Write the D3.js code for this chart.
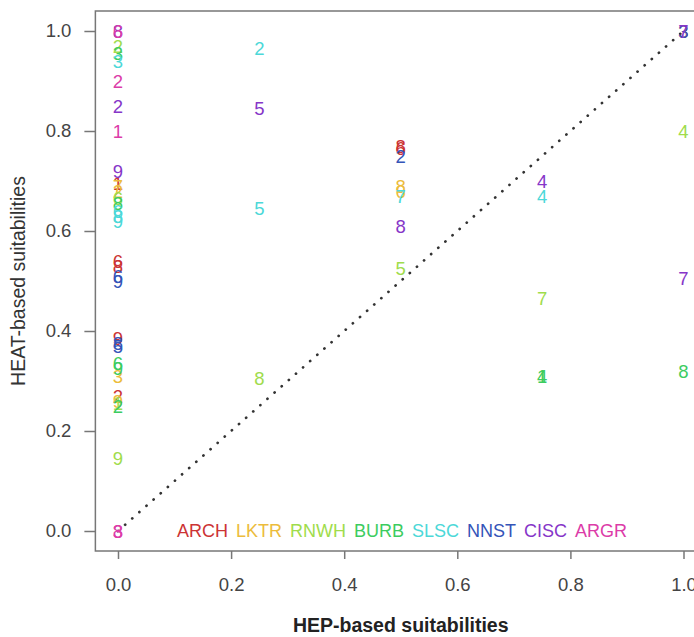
<!DOCTYPE html>
<html>
<head>
<meta charset="utf-8">
<script src="https://cdn.jsdelivr.net/npm/d3@7"></script>
<style>
  body { margin: 0; background: #fff; }
  svg { display: block; font-family: "Liberation Sans", Arial, sans-serif; }
</style>
</head>
<body>
<div id="container"></div>
<script>
/* DATA */
const species = ["ARCH", "LKTR", "RNWH", "BURB", "SLSC", "NNST", "CISC", "ARGR"];
const speciesColors = ["#cc3434", "#ecbc3c", "#a0dc4c", "#3ccc60", "#4cd8d8", "#3454b8", "#8636c8", "#dc3ca8"];
const xTicks = [0, 0.2, 0.4, 0.6, 0.8, 1.0];
const yTicks = [0, 0.2, 0.4, 0.6, 0.8, 1.0];

// each point: [site, HEP, HEAT]
const arch = [[1, 0, 0.695], [2, 0, 0.27], [6, 0, 0.54], [8, 0, 0.53], [9, 0, 0.385], [6, 0.5, 0.765], [8, 0.5, 0.77], [3, 1, 1]];
const lktr = [[7, 0, 0.69], [2, 0, 0.68], [3, 0, 0.31], [9, 0, 0.26], [6, 0.5, 0.68], [8, 0.5, 0.69]];
const rnwh = [[2, 0, 0.97], [6, 0, 0.665], [1, 0, 0.255], [9, 0, 0.145], [8, 0.25, 0.305], [5, 0.5, 0.525], [7, 0.75, 0.465], [4, 1, 0.8]];
const burb = [[3, 0, 0.955], [8, 0, 0.655], [6, 0, 0.335], [9, 0, 0.325], [2, 0, 0.25], [1, 0.75, 0.31], [4, 0.75, 0.31], [8, 1, 0.32]];
const slsc = [[3, 0, 0.94], [6, 0, 0.64], [8, 0, 0.63], [9, 0, 0.62], [2, 0.25, 0.965], [5, 0.25, 0.645], [7, 0.5, 0.67], [4, 0.75, 0.67]];
const nnst = [[6, 0, 0.51], [9, 0, 0.5], [8, 0, 0.375], [5, 0, 0.37], [2, 0.5, 0.75], [3, 1, 1]];
const cisc = [[8, 0, 1], [2, 0, 0.85], [9, 0, 0.72], [5, 0.25, 0.845], [8, 0.5, 0.61], [4, 0.75, 0.7], [7, 1, 0.505], [7, 1, 1]];
const argr = [[6, 0, 1], [2, 0, 0.9], [1, 0, 0.8], [3, 0, 0], [8, 0, 0]];

const seriesList = [arch, lktr, rnwh, burb, slsc, nnst, cisc, argr];

/* CONSTANTS */
const width = 694,
  height = 637;

/* SCALES */
const xScale = d3.scaleLinear().domain([0, 1]).range([118, 683.5]);
const yScale = d3.scaleLinear().domain([0, 1]).range([531, 31]);

const colorScale = d3.scaleOrdinal().domain(species).range(speciesColors);

/* SVG */
const svg = d3.select("#container")
  .append("svg")
  .attr("width", width)
  .attr("height", height);

// plot frame (R style, 4% padding)
const x0 = xScale(-0.04), x1 = xScale(1.04);
const y0 = yScale(-0.04), y1 = yScale(1.04);
svg.append("rect")
  .attr("x", x0).attr("y", y1)
  .attr("width", x1 - x0).attr("height", y0 - y1)
  .attr("fill", "none")
  .attr("stroke", "#777")
  .attr("stroke-width", 1.5);

// axes
const xAxis = d3.axisBottom(xScale)
  .tickValues(xTicks)
  .tickFormat(d3.format(".1f"))
  .tickSize(8)
  .tickPadding(19);
const gx = svg.append("g")
  .attr("transform", `translate(0, ${y0})`)
  .call(xAxis);

const yAxis = d3.axisLeft(yScale)
  .tickValues(yTicks)
  .tickFormat(d3.format(".1f"))
  .tickSize(11)
  .tickPadding(13);
const gy = svg.append("g")
  .attr("transform", `translate(${x0}, 0)`)
  .call(yAxis);

[gx, gy].forEach(g => {
  g.select(".domain").remove();
  g.selectAll(".tick line").attr("stroke", "#777").attr("stroke-width", 1.5);
  g.selectAll(".tick text")
    .attr("fill", "#444")
    .style("font-size", "18.5px")
    .style("font-family", "'Liberation Sans', Arial, sans-serif");
});

// axis titles
svg.append("text")
  .attr("x", (x0 + x1) / 2)
  .attr("y", 632)
  .attr("text-anchor", "middle")
  .attr("fill", "#222")
  .style("font-size", "19.5px")
  .style("font-weight", "bold")
  .text("HEP-based suitabilities");

svg.append("text")
  .attr("transform", `translate(25, ${(y0 + y1) / 2}) rotate(-90)`)
  .attr("text-anchor", "middle")
  .attr("fill", "#333")
  .style("font-size", "19.5px")
  .text("HEAT-based suitabilities");

// 1:1 line
svg.append("line")
  .attr("x1", xScale(0)).attr("y1", yScale(0))
  .attr("x2", xScale(1)).attr("y2", yScale(1))
  .attr("stroke", "#333")
  .attr("stroke-width", 2.7)
  .attr("stroke-linecap", "round")
  .attr("stroke-dasharray", "0.1,9.4");

/* DRAW POINTS (site numbers) */
const points = seriesList.flatMap((s, i) =>
  s.map(d => ({ species: species[i], site: d[0], hep: d[1], heat: d[2] })));

svg.selectAll(".site")
  .data(points)
  .join("text")
  .attr("class", "site")
  .attr("x", d => xScale(d.hep))
  .attr("y", d => yScale(d.heat))
  .attr("dy", "0.36em")
  .attr("text-anchor", "middle")
  .attr("fill", d => colorScale(d.species))
  .style("font-size", "18.5px")
  .text(d => d.site);

/* LEGEND */
const legend = svg.append("g")
  .attr("transform", `translate(177, ${yScale(0)})`);
let lx = 0;
species.forEach(sp => {
  const t = legend.append("text")
    .attr("x", lx)
    .attr("dy", "0.36em")
    .attr("fill", colorScale(sp))
    .style("font-size", "18px")
    .text(sp);
  lx += t.node().getComputedTextLength() + 8;
});
</script>
</body>
</html>
